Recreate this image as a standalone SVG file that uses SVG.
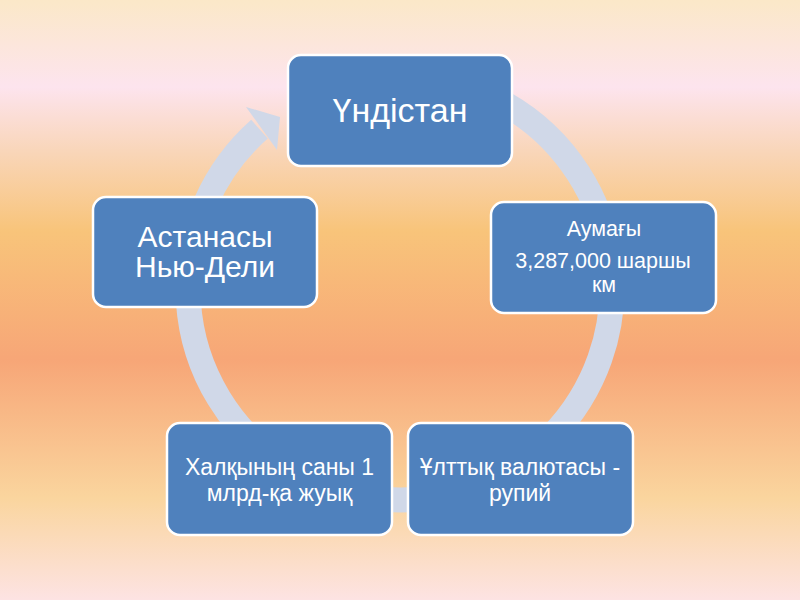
<svg xmlns="http://www.w3.org/2000/svg" width="800" height="600" viewBox="0 0 800 600">
  <defs>
    <linearGradient id="bg" x1="0" y1="0" x2="0" y2="1">
      <stop offset="0" stop-color="#fbe8c8"/>
      <stop offset="0.145" stop-color="#fde4ee"/>
      <stop offset="0.25" stop-color="#f9d6ba"/>
      <stop offset="0.385" stop-color="#f8c47a"/>
      <stop offset="0.6" stop-color="#f7a677"/>
      <stop offset="0.83" stop-color="#fad59e"/>
      <stop offset="1" stop-color="#fde3e3"/>
    </linearGradient>
    <style>
      .node rect { fill: #4f81bd; stroke: #ffffff; stroke-width: 2.5; }
      .node text { fill: #ffffff; font-family: "Liberation Sans", Arial, sans-serif; text-anchor: middle; }
      .ring { fill: none; stroke: #d0d8e8; stroke-width: 25; }
      .head { fill: #d0d8e8; }
    </style>
  </defs>
  <rect x="0" y="0" width="800" height="600" fill="url(#bg)"/>

  <g id="connectors">
    <path class="ring" d="M 418.5 76.8 A 212 212 0 1 1 259.5 129.2"/>
    <polygon class="head" points="246,107 280,117 277,150"/>
  </g>

  <g id="node-top" class="node">
    <rect x="288" y="55" width="224" height="111" rx="13"/>
    <text x="400" y="122" font-size="34">Үндістан</text>
  </g>

  <g id="node-right" class="node">
    <rect x="491" y="202" width="225" height="111" rx="13"/>
    <text x="604" y="236" font-size="21.5">Аумағы</text>
    <text x="603" y="268" font-size="21.5">3,287,000 шаршы</text>
    <text x="604" y="292" font-size="21.5">км</text>
  </g>

  <g id="node-bottom-right" class="node">
    <rect x="408" y="423" width="225" height="112" rx="13"/>
    <text x="520" y="475" font-size="23">Ұлттық валютасы -</text>
    <text x="520" y="501" font-size="23">рупий</text>
  </g>

  <g id="node-bottom-left" class="node">
    <rect x="167" y="423" width="225" height="112" rx="13"/>
    <text x="279.5" y="475" font-size="23">Халқының саны 1</text>
    <text x="279.5" y="501" font-size="23">млрд-қа жуық</text>
  </g>

  <g id="node-left" class="node">
    <rect x="93" y="197" width="224" height="110" rx="13"/>
    <text x="205" y="247" font-size="30">Астанасы</text>
    <text x="205" y="277" font-size="30">Нью-Дели</text>
  </g>
</svg>
